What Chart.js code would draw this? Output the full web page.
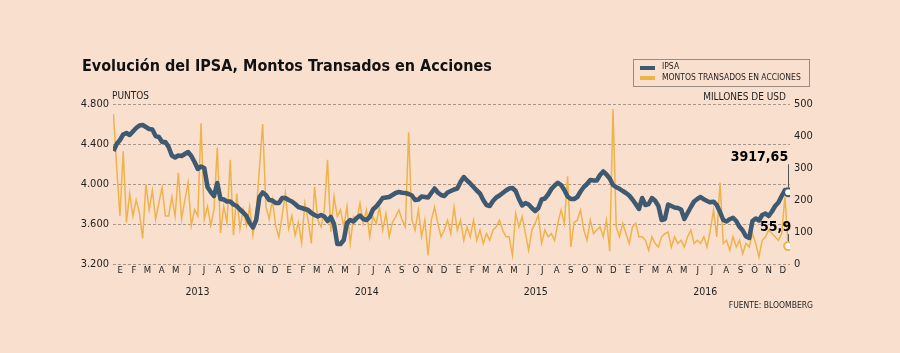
<!DOCTYPE html>
<html><head><meta charset="utf-8">
<script src="https://cdn.jsdelivr.net/npm/chart.js@4.4.0/dist/chart.umd.min.js"></script>
<style>html,body{margin:0;padding:0;background:#f9dfcd;}#wrap{width:900px;height:353px;}</style>
</head><body><div id="wrap"><canvas id="c" width="900" height="353"></canvas></div>
<script>
const titleText = 'Evolución del IPSA, Montos Transados en Acciones';
const seriesNames = ['IPSA', 'MONTOS TRANSADOS EN ACCIONES'];
const leftUnit = 'PUNTOS';
const rightUnit = 'MILLONES DE USD';
const sourceText = 'FUENTE: BLOOMBERG';
const firstWeek = '2013-01-02';   // weekly observations from this date
const ipsa = [
4330,4400,4440,4495,4510,4490,4525,4560,4585,4590,
4570,4550,4545,4480,4470,4420,4420,4370,4285,4265,
4285,4280,4300,4320,4280,4220,4150,4175,4160,3970,
3920,3880,4010,3850,3845,3825,3825,3795,3780,3745,
3715,3680,3610,3565,3640,3870,3915,3890,3840,3835,
3810,3810,3860,3860,3840,3825,3800,3770,3760,3750,
3740,3710,3690,3675,3690,3675,3630,3670,3600,3400,
3400,3440,3610,3640,3625,3660,3685,3650,3640,3670,
3745,3775,3815,3860,3865,3870,3890,3910,3920,3912,
3910,3900,3885,3840,3845,3875,3870,3865,3910,3955,
3915,3890,3880,3915,3930,3945,3955,4020,4070,4035,
4005,3970,3935,3905,3840,3790,3780,3830,3865,3885,
3910,3935,3955,3960,3930,3850,3785,3810,3795,3760,
3730,3760,3845,3855,3895,3950,3985,4012,3990,3940,
3875,3850,3850,3870,3925,3970,4000,4040,4035,4035,
4090,4125,4095,4055,3990,3968,3952,3930,3910,3885,
3845,3800,3750,3860,3790,3800,3860,3832,3780,3640,
3650,3795,3780,3765,3760,3745,3650,3710,3770,3825,
3850,3870,3847,3830,3817,3823,3790,3720,3640,3625,
3648,3662,3630,3572,3535,3475,3460,3630,3655,3635,
3690,3705,3680,3725,3780,3815,3880,3940,3917.65];
const montos = [
468,300,150,352,130,220,150,200,160,80,
250,170,230,140,190,240,150,150,210,150,
285,140,200,254,120,170,150,440,140,180,
120,170,364,97,180,130,326,90,220,110,
170,120,180,90,160,300,437,180,140,200,
120,84,150,222,110,150,90,130,65,190,
137,64,241,137,116,169,326,100,211,148,
169,116,180,64,148,137,190,127,169,85,
148,127,178,106,158,85,130,148,169,137,
116,412,137,106,169,85,137,27,137,178,
127,85,106,137,95,178,106,137,74,116,
85,137,74,106,64,95,74,106,116,137,
106,85,85,27,158,116,148,95,43,106,
127,153,64,106,85,95,74,127,169,127,
274,53,130,137,169,106,74,137,95,106,
116,85,137,40,484,116,85,127,95,64,
116,127,85,85,74,43,85,64,53,85,
95,100,53,85,64,74,53,85,106,64,
74,64,85,53,106,169,85,254,64,74,
43,85,53,74,32,64,53,95,64,22,
74,85,106,95,85,74,95,210,55.9];
const monthLetters = ['E','F','M','A','M','J','J','A','S','O','N','D'];
const years = [2013, 2014, 2015, 2016];
const leftTicks = [3200, 3600, 4000, 4400, 4800];
const rightTicks = [0, 100, 200, 300, 400, 500];
const ipsaLastLabel = '3917,65';
const montosLastLabel = '55,9';

const COL_BG = '#f9dfcd', COL_BLUE = '#3d5a72', COL_ORANGE = '#efb34c', COL_GRID = '#a8968a', COL_TEXT = '#1e1e1e';
const FONT = "'DejaVu Sans Condensed', 'DejaVu Sans', sans-serif";
const DAY = 86400000;
const origin = Date.UTC(years[0], 0, 1);
const startDay = (Date.parse(firstWeek + 'T00:00:00Z') - origin) / DAY;
const endDay = (Date.UTC(years[years.length - 1] + 1, 0, 1) - origin) / DAY;
const toPoints = arr => arr.map((v, i) => ({ x: startDay + 7 * i, y: v }));
const monthMids = [];
years.forEach(y => { for (let m = 0; m < 12; m++) monthMids.push(((Date.UTC(y, m, 1) + Date.UTC(y, m + 1, 1)) / 2 - origin) / DAY); });
const yearMids = years.map(y => ((Date.UTC(y, 0, 1) + Date.UTC(y + 1, 0, 1)) / 2 - origin) / DAY);
const lastOnly = n => ctx => (ctx.dataIndex === n - 1 ? 4 : 0);

const decor = {
  id: 'decor',
  beforeDraw(chart) {
    const c = chart.ctx; c.save(); c.fillStyle = COL_BG; c.fillRect(0, 0, chart.width, chart.height); c.restore();
  },
  afterDraw(chart) {
    const c = chart.ctx; const a = chart.chartArea;
    c.save();
    // title
    c.fillStyle = '#111';
    c.font = 'bold 16px ' + FONT;
    const w = c.measureText(titleText).width;
    const fs = Math.min(18, 16 * 410 / w);
    c.font = 'bold ' + fs.toFixed(2) + 'px ' + FONT;
    c.textBaseline = 'alphabetic'; c.textAlign = 'left';
    c.fillText(titleText, 82, 71);
    // unit labels
    c.fillStyle = COL_TEXT;
    c.font = '10px ' + FONT; c.textBaseline = 'middle';
    c.textAlign = 'left'; c.fillText(leftUnit, a.left - 1, 96);
    c.textAlign = 'right'; c.fillText(rightUnit, a.right - 4, 97);
    // legend
    c.strokeStyle = '#9c8a80'; c.lineWidth = 1;
    c.strokeRect(633.5, 59.5, 176, 27);
    c.lineWidth = 4; c.lineCap = 'butt';
    c.strokeStyle = COL_BLUE; c.beginPath(); c.moveTo(640, 68); c.lineTo(655, 68); c.stroke();
    c.strokeStyle = COL_ORANGE; c.beginPath(); c.moveTo(640, 78); c.lineTo(655, 78); c.stroke();
    c.fillStyle = COL_TEXT; c.font = '8.5px ' + FONT; c.textAlign = 'left';
    c.fillText(seriesNames[0], 662, 67);
    c.fillText(seriesNames[1], 662, 77.5);
    // source
    c.font = '8.5px ' + FONT; c.textAlign = 'right';
    c.fillText(sourceText, 813, 306);
    // end annotations
    const pI = chart.getDatasetMeta(1).data[ipsa.length - 1];
    const pM = chart.getDatasetMeta(0).data[montos.length - 1];
    c.strokeStyle = '#555'; c.lineWidth = 1;
    c.beginPath(); c.moveTo(Math.round(pI.x) + 0.5, pI.y - 28); c.lineTo(Math.round(pI.x) + 0.5, pI.y - 5); c.stroke();
    c.beginPath(); c.moveTo(Math.round(pM.x) + 0.5, pM.y - 12); c.lineTo(Math.round(pM.x) + 0.5, pM.y - 5); c.stroke();
    c.fillStyle = '#000'; c.font = 'bold 14px ' + FONT; c.textAlign = 'right'; c.textBaseline = 'alphabetic';
    c.fillText(ipsaLastLabel, pI.x, pI.y - 31);
    c.fillText(montosLastLabel, pM.x + 3, pM.y - 15);
    c.restore();
  }
};

new Chart(document.getElementById('c'), {
  type: 'line',
  data: {
    datasets: [
      { label: seriesNames[1], data: toPoints(montos), xAxisID: 'x', yAxisID: 'y2', borderColor: COL_ORANGE, borderWidth: 1.5,
        pointRadius: lastOnly(montos.length), pointBackgroundColor: '#fff', pointBorderColor: COL_ORANGE, pointBorderWidth: 2, order: 2, tension: 0 },
      { label: seriesNames[0], data: toPoints(ipsa), xAxisID: 'x', yAxisID: 'y', borderColor: COL_BLUE, borderWidth: 4.5, borderJoinStyle: 'round',
        pointRadius: lastOnly(ipsa.length), pointBackgroundColor: '#fff', pointBorderColor: COL_BLUE, pointBorderWidth: 2, order: 1, tension: 0 }
    ]
  },
  options: {
    responsive: false, animation: false, events: [],
    layout: { padding: { top: 104, bottom: 49, left: 0, right: 0 } },
    plugins: { legend: { display: false }, tooltip: { enabled: false }, title: { display: false } },
    scales: {
      x: {
        type: 'linear', position: 'bottom', min: 0, max: endDay, weight: 0,
        grid: { display: false, drawTicks: false }, border: { display: false },
        afterBuildTicks: s => { s.ticks = monthMids.map(v => ({ value: v })); },
        afterFit: s => { s.height = 12; },
        ticks: { autoSkip: false, maxRotation: 0, padding: 1, color: COL_TEXT, font: { family: FONT, size: 9.5 },
          callback: (v, i) => monthLetters[i % 12] }
      },
      xYear: {
        type: 'linear', position: 'bottom', min: 0, max: endDay, weight: 1,
        grid: { display: false, drawTicks: false }, border: { display: false },
        afterBuildTicks: s => { s.ticks = yearMids.map(v => ({ value: v })); },
        afterFit: s => { s.height = 28; },
        ticks: { autoSkip: false, maxRotation: 0, padding: 10, color: COL_TEXT, font: { family: FONT, size: 10.5 },
          callback: (v, i) => String(years[i]) }
      },
      y: {
        position: 'left', min: leftTicks[0], max: leftTicks[leftTicks.length - 1],
        afterBuildTicks: s => { s.ticks = leftTicks.map(v => ({ value: v })); },
        afterFit: s => { s.width = 113; },
        grid: { color: COL_GRID, lineWidth: 1, drawTicks: false },
        border: { display: false, dash: [3, 2] },
        ticks: { padding: 4, color: COL_TEXT, font: { family: FONT, size: 11 },
          callback: v => (v / 1000).toFixed(3) }
      },
      y2: {
        position: 'right', min: rightTicks[0], max: rightTicks[rightTicks.length - 1],
        afterBuildTicks: s => { s.ticks = rightTicks.map(v => ({ value: v })); },
        afterFit: s => { s.width = 110; },
        grid: { display: false, drawTicks: false }, border: { display: false },
        ticks: { padding: 4, color: COL_TEXT, font: { family: FONT, size: 11 }, callback: v => String(v) }
      }
    }
  },
  plugins: [decor]
});
</script></body></html>
